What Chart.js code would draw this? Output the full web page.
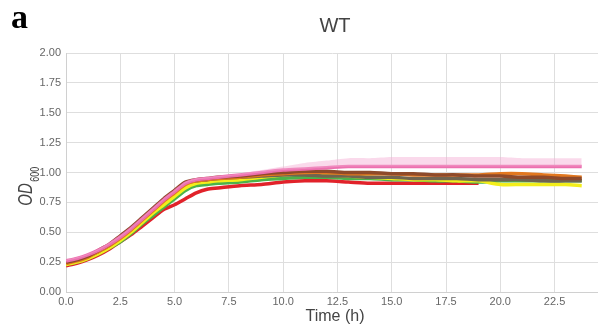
<!DOCTYPE html>
<html>
<head>
<meta charset="utf-8">
<script src="https://cdn.jsdelivr.net/npm/chart.js@4/dist/chart.umd.min.js"></script>
<style>
  html, body { margin: 0; padding: 0; background: #fff; }
  canvas { display: block; }
</style>
</head>
<body>
<canvas id="chart" width="598" height="330"></canvas>
<script>
// sampling times (h)
const times = [0, 0.5, 1, 1.5, 2, 2.5, 3, 3.5, 4, 4.5, 5, 5.5, 6, 6.5, 7, 8, 9, 10, 11, 12,
  13, 14, 15, 16, 17, 18, 19, 20, 21, 22, 23, 23.75];

const pinkBandUpper = [0.27, 0.29, 0.32, 0.36, 0.41, 0.47, 0.54, 0.62, 0.70, 0.78, 0.85, 0.92, 0.95, 0.96, 0.97, 0.99, 1.02, 1.05, 1.08, 1.10,
  1.12, 1.12, 1.13, 1.13, 1.13, 1.13, 1.13, 1.13, 1.12, 1.12, 1.12, 1.12];
const pink = [0.26, 0.28, 0.31, 0.35, 0.40, 0.46, 0.53, 0.61, 0.69, 0.77, 0.84, 0.91, 0.94, 0.95, 0.96, 0.98, 1.00, 1.02, 1.03, 1.04,
  1.05, 1.05, 1.05, 1.05, 1.05, 1.05, 1.05, 1.05, 1.05, 1.05, 1.05, 1.05];
const brown = [0.25, 0.27, 0.30, 0.35, 0.40, 0.47, 0.54, 0.62, 0.70, 0.78, 0.85, 0.92, 0.94, 0.95, 0.96, 0.97, 0.99, 1.00, 1.01, 1.01,
  1.00, 1.00, 0.99, 0.99, 0.98, 0.98, 0.97, 0.97, 0.96, 0.96, 0.95, 0.95];
const orange = [0.24, 0.26, 0.29, 0.34, 0.39, 0.45, 0.52, 0.60, 0.68, 0.76, 0.83, 0.90, 0.93, 0.94, 0.95, 0.96, 0.98, 0.99, 1.00, 1.00,
  0.99, 0.99, 0.99, 0.98, 0.98, 0.98, 0.98, 0.99, 0.99, 0.98, 0.97, 0.96];
const grey = [0.25, 0.27, 0.30, 0.34, 0.39, 0.46, 0.53, 0.61, 0.69, 0.77, 0.84, 0.91, 0.93, 0.94, 0.95, 0.96, 0.97, 0.98, 0.98, 0.97,
  0.97, 0.96, 0.96, 0.95, 0.95, 0.95, 0.94, 0.94, 0.94, 0.93, 0.93, 0.93];
const yellow = [0.23, 0.25, 0.28, 0.32, 0.37, 0.43, 0.50, 0.58, 0.66, 0.73, 0.80, 0.87, 0.91, 0.92, 0.93, 0.94, 0.96, 0.98, 0.99, 0.98,
  0.97, 0.96, 0.95, 0.94, 0.94, 0.93, 0.93, 0.90, 0.90, 0.90, 0.90, 0.89];
const green = [0.23, 0.25, 0.28, 0.32, 0.37, 0.42, 0.49, 0.57, 0.64, 0.71, 0.78, 0.85, 0.89, 0.90, 0.91, 0.92, 0.94, 0.95, 0.96, 0.96,
  0.95, 0.95, 0.94, 0.94, 0.93, 0.93, 0.92, 0.93, 0.93, 0.93, 0.93, 0.93];
const red = [0.22, 0.24, 0.27, 0.31, 0.36, 0.42, 0.48, 0.55, 0.62, 0.69, 0.73, 0.78, 0.83, 0.86, 0.87, 0.89, 0.90, 0.92, 0.93, 0.93,
  0.92, 0.91, 0.91, 0.91, 0.91, 0.91, 0.91, null, null, null, null, null];

const xTicks = [0, 2.5, 5, 7.5, 10, 12.5, 15, 17.5, 20, 22.5];
const yTicks = [0, 0.25, 0.5, 0.75, 1, 1.25, 1.5, 1.75, 2];

const pts = (vals) => times.map((t, i) => ({ x: t, y: vals[i] }));

function line(label, vals, color) {
  return {
    label,
    data: pts(vals),
    borderColor: color,
    borderWidth: 3.5,
    pointRadius: 0,
    tension: 0.25,
    fill: false,
    spanGaps: false,
  };
}

// extra texts: panel letter, title, y title with subscript, x title
const textPlugin = {
  id: 'texts',
  afterDraw(chart) {
    const ctx = chart.ctx;
    ctx.save();
    ctx.fillStyle = '#000';
    ctx.font = 'bold 34px "Liberation Serif", serif';
    ctx.textBaseline = 'alphabetic';
    ctx.textAlign = 'left';
    ctx.fillText('a', 11, 28);

    ctx.fillStyle = '#444';
    ctx.font = '20px "Liberation Sans", Arial, sans-serif';
    ctx.textAlign = 'center';
    ctx.textBaseline = 'middle';
    ctx.fillText('WT', 335, 26);

    ctx.font = '16px "Liberation Sans", Arial, sans-serif';
    ctx.fillText('Time (h)', 335, 317);

    // rotated OD600, a bit condensed along the text
    ctx.translate(32, 187);
    ctx.rotate(-Math.PI / 2);
    ctx.scale(0.75, 1);
    ctx.textAlign = 'left';
    ctx.textBaseline = 'alphabetic';
    ctx.font = 'italic 20px "Liberation Sans", Arial, sans-serif';
    const w1 = ctx.measureText('OD').width;
    ctx.font = '12px "Liberation Sans", Arial, sans-serif';
    const w2 = ctx.measureText('600').width;
    const x0 = -(w1 + w2) / 2;
    ctx.font = 'italic 20px "Liberation Sans", Arial, sans-serif';
    ctx.fillText('OD', x0, 0);
    ctx.font = '12px "Liberation Sans", Arial, sans-serif';
    ctx.fillText('600', x0 + w1 + 2, 7);
    ctx.restore();
  }
};

new Chart(document.getElementById('chart'), {
  type: 'line',
  data: {
    datasets: [
      {
        label: 'pink band',
        data: pts(pinkBandUpper),
        borderColor: 'rgba(0,0,0,0)',
        backgroundColor: 'rgba(244, 170, 210, 0.45)',
        pointRadius: 0,
        borderWidth: 0,
        tension: 0.25,
        fill: 1,
      },
      line('pink', pink, '#ec6fae'),
      line('brown', brown, '#8e4a2a'),
      line('orange', orange, '#e2781f'),
      line('grey', grey, '#6f6450'),
      line('yellow', yellow, '#f3ee1a'),
      line('green', green, '#4bb24a'),
      line('red', red, '#e1222a'),
    ],
  },
  options: {
    responsive: false,
    animation: false,
    layout: { padding: { top: 53, left: 0, right: 0, bottom: 0 } },
    plugins: {
      legend: { display: false },
      tooltip: { enabled: false },
    },
    scales: {
      x: {
        type: 'linear',
        min: 0,
        max: 24.5,
        afterBuildTicks: (scale) => {
          scale.ticks = xTicks.map((v) => ({ value: v }));
        },
        afterFit: (scale) => { scale.height = 38; },
        grid: { color: '#dedede', drawTicks: false },
        border: { color: '#d0d0d0' },
        ticks: {
          padding: 3,
          color: '#666',
          font: { size: 11, family: '"Liberation Sans", Arial, sans-serif' },
          callback: (v) => Number(v).toFixed(1),
        },
      },
      y: {
        type: 'linear',
        min: 0,
        max: 2,
        afterBuildTicks: (scale) => {
          scale.ticks = yTicks.map((v) => ({ value: v }));
        },
        afterFit: (scale) => { scale.width = 66; },
        grid: { color: '#dedede', drawTicks: false },
        border: { color: '#d0d0d0' },
        ticks: {
          padding: 5,
          color: '#666',
          font: { size: 11, family: '"Liberation Sans", Arial, sans-serif' },
          callback: (v) => Number(v).toFixed(2),
        },
      },
    },
  },
  plugins: [textPlugin],
});
</script>
</body>
</html>
